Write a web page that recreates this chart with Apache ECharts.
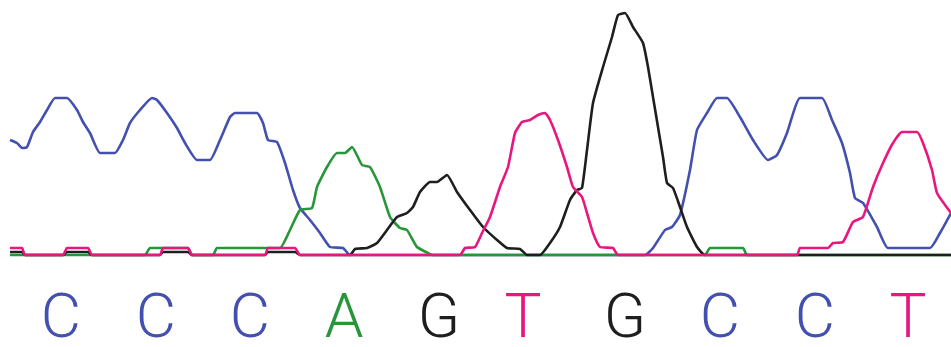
<!DOCTYPE html>
<html><head><meta charset="utf-8">
<script src="https://cdn.jsdelivr.net/npm/echarts@6/dist/echarts.min.js"></script>
<style>html,body{margin:0;padding:0;background:#fff}#c{width:951px;height:347px}</style>
</head><body><div id="c"></div>
<script>
// Chromatogram traces: [scan position, signal]
const traceC = [[10,115],[17,112],[22,107],[27,108],[33,123],[40,133],[47,145],[55,157],[67,157],[77,145],[83,133],[90,122],[100,102],[115,102],[123,115],[130,132],[140,145],[152,157],[157,155],[167,142],[177,127],[185,112],[197,95],[210,95],[220,115],[230,138],[235,142],[257,142],[263,132],[268,115],[277,113],[285,92],[293,65],[300,47],[310,35],[320,22],[330,8],[343,7],[350,0],[645,0],[653,7],[665,25],[672,28],[680,40],[690,85],[697,125],[707,142],[717,157],[727,157],[740,138],[753,115],[768,95],[777,100],[787,122],[800,157],[822,157],[832,135],[842,112],[850,82],[855,57],[863,52],[877,28],[888,7],[930,7],[940,22],[951,42]];
const traceA = [[10,0],[145,0],[150,7],[188,7],[192,0],[213,0],[217,7],[267,7],[280,7],[290,25],[300,45],[312,47],[317,68],[327,88],[337,102],[345,102],[352,108],[362,90],[370,88],[380,68],[390,38],[400,27],[407,25],[417,8],[428,2],[432,0],[705,0],[710,7],[743,7],[747,0],[951,0]];
const traceG = [[10,3],[22,3],[25,0],[63,0],[67,3],[88,3],[92,0],[160,0],[163,3],[188,3],[192,0],[265,0],[268,3],[295,3],[300,0],[350,0],[355,6],[367,7],[377,12],[387,25],[397,38],[407,42],[413,48],[420,63],[430,73],[437,73],[447,80],[457,63],[470,45],[483,28],[497,15],[507,7],[520,6],[527,0],[540,0],[550,12],[560,28],[570,55],[577,65],[582,67],[587,105],[593,152],[603,188],[612,218],[618,240],[625,242],[633,228],[643,212],[648,188],[653,158],[658,128],[663,98],[667,72],[673,67],[680,48],[687,28],[697,8],[705,0],[951,0]];
const traceT = [[10,7],[22,7],[25,0],[63,0],[67,7],[88,7],[92,0],[160,0],[163,7],[188,7],[192,0],[265,0],[268,7],[295,7],[300,0],[460,0],[465,7],[475,8],[482,22],[490,38],[500,68],[508,88],[515,122],[522,133],[530,135],[538,140],[545,142],[550,135],[558,115],[567,88],[573,68],[582,58],[587,42],[593,22],[600,8],[613,7],[618,0],[797,0],[800,7],[828,7],[833,12],[843,13],[853,33],[863,38],[873,68],[883,92],[893,112],[902,123],[917,123],[923,112],[932,85],[937,62],[951,42]];
// Base calls and their scan positions
const baseCalls = ['C','C','C','A','G','T','G','C','C','T'];
const callPos = [61,156,250,344,439,523,625,720,815,908];

const colors = {C:'#4350b0', A:'#27963a', G:'#1e1e1e', T:'#e8177f'};
const callLevel = -66;

const chart = echarts.init(document.getElementById('c'));
const lineSeries = (name, data) => ({
  type:'line', name, data, symbol:'none', smooth:0.15,
  lineStyle:{color:colors[name], width:2.6}, z: 2
});
chart.setOption({
  animation:false,
  grid:{left:0,right:0,top:0,bottom:0},
  xAxis:{type:'value',min:0,max:951,show:false},
  yAxis:{type:'value',min:-92,max:255,show:false},
  series:[
    lineSeries('C', traceC),
    lineSeries('A', traceA),
    lineSeries('G', traceG),
    lineSeries('T', traceT),
    {
      type:'scatter', symbolSize:1, itemStyle:{opacity:0},
      data: baseCalls.map((b,i)=>({value:[callPos[i], callLevel], name:b,
        label:{show:true, color:colors[b], opacity:1}})),
      label:{show:true, position:'inside', formatter:p=>p.name,
        fontFamily:'Roboto', fontSize:62, fontWeight:300}
    }
  ]
});
</script></body></html>
